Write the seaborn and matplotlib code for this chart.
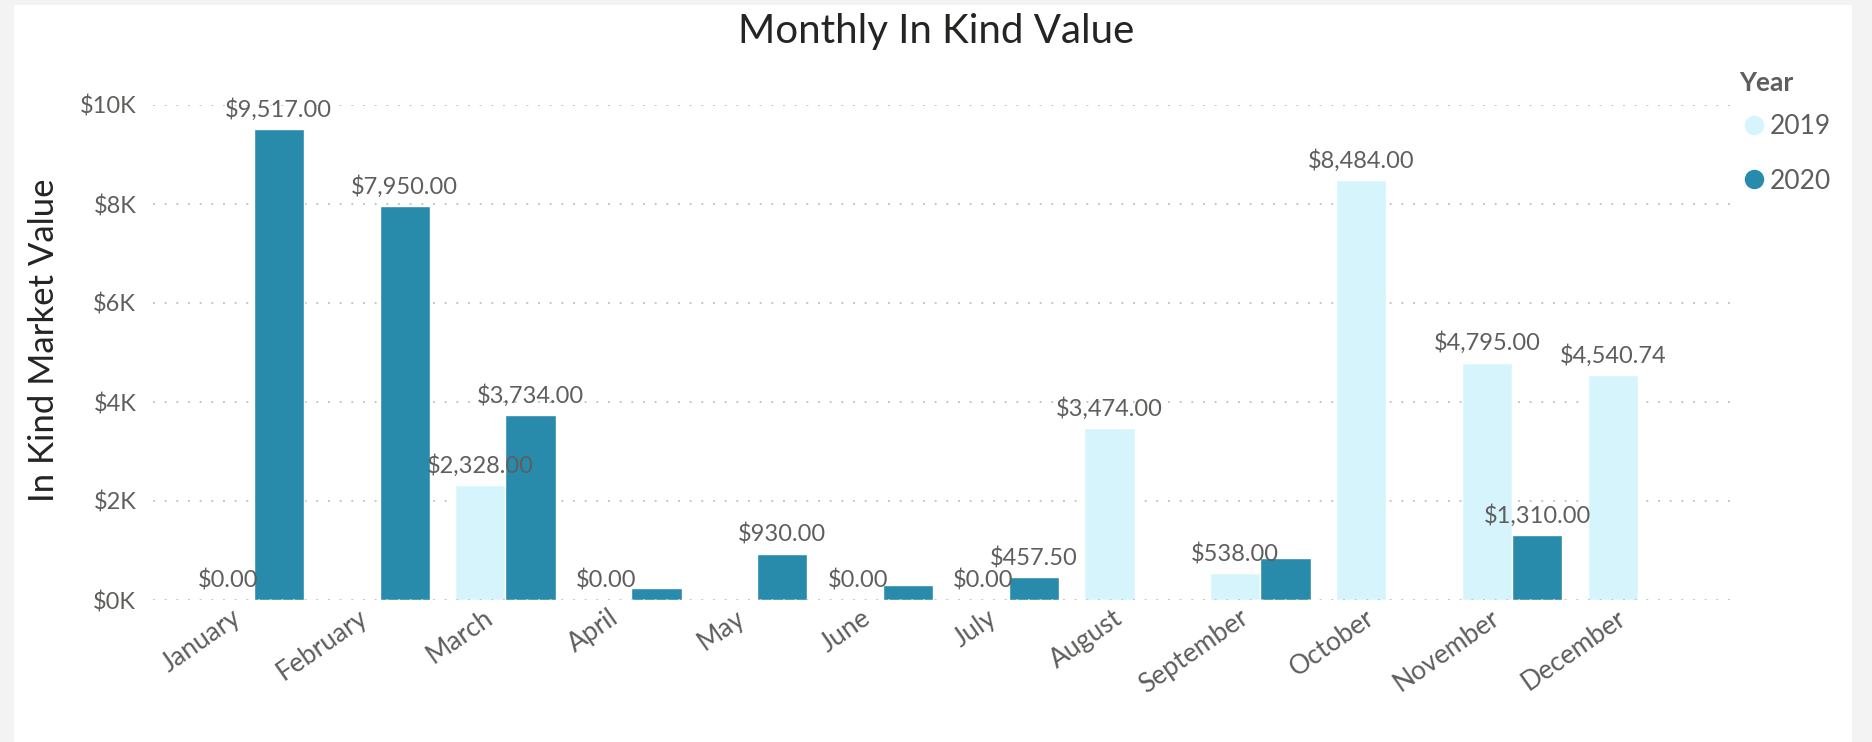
import numpy as np
import pandas as pd
import matplotlib
matplotlib.use("Agg")
import matplotlib.pyplot as plt
import seaborn as sns
from matplotlib.patches import Rectangle
from matplotlib.lines import Line2D
from matplotlib.ticker import FuncFormatter
from matplotlib.transforms import ScaledTranslation

months = ["January", "February", "March", "April", "May", "June", "July",
          "August", "September", "October", "November", "December"]
years = ["2019", "2020"]
value_2019 = [0, np.nan, 2328, 0, np.nan, 0, 0, 3474, 538, 8484, 4795, 4540.74]
value_2020 = [9517, 7950, 3734, 236, 930, 303, 457.5, np.nan, 848, np.nan, 1310, np.nan]
# labels Power BI dropped because they collided with a neighbour
hidden_labels = [("April", "2020"), ("June", "2020"), ("September", "2020")]
y_ticks = [0, 2000, 4000, 6000, 8000, 10000]

colors = {"2019": "#D6F4FC", "2020": "#288BAB"}
dark = "#252423"
grey = "#605E5C"

df = pd.DataFrame({
    "Month": months * 2,
    "Year": ["2019"] * 12 + ["2020"] * 12,
    "Value": value_2019 + value_2020,
}).dropna()

sns.set_style("white")
plt.rcParams["font.family"] = ["Lato", "DejaVu Sans"]

fig = plt.figure(figsize=(18.72, 7.42), dpi=100)
fig.patch.set_facecolor("#F3F3F3")
fig.patches.append(Rectangle((14 / 1872, 0), (1852 - 14) / 1872, 1 - 5 / 742,
                             transform=fig.transFigure, facecolor="white",
                             edgecolor="none", zorder=-10))

ax = fig.add_axes([153 / 1872, 1 - 600 / 742, 1578 / 1872, 495 / 742])
ax.set_facecolor("none")

sns.barplot(data=df, x="Month", y="Value", hue="Year", order=months,
            hue_order=years, palette=colors, width=0.8, saturation=1,
            legend=False, ax=ax, zorder=2)

ax.set_xlim(-0.8, 11.74)
ax.set_ylim(0, 10000)
ax.set_yticks(y_ticks)
ax.yaxis.set_major_formatter(FuncFormatter(lambda v, p: f"${v / 1000:.0f}K"))
for y in y_ticks:
    ax.axhline(y, color="#C8C6C4", lw=1.4, ls=(0, (1, 5)), zorder=1 if y else 3)

for s in ax.spines.values():
    s.set_visible(False)
ax.tick_params(axis="y", length=0, colors=grey, labelsize=17, pad=12)
ax.tick_params(axis="x", length=0, colors=grey, labelsize=19, pad=11)
shift = ScaledTranslation(-0.15, 0, fig.dpi_scale_trans)
for lab in ax.get_xticklabels():
    lab.set_rotation(35)
    lab.set_ha("right")
    lab.set_va("center")
    lab.set_rotation_mode("anchor")
    lab.set_transform(lab.get_transform() + shift)
ax.set_xlabel("")
ax.set_ylabel("")

for year, cont in zip(years, ax.containers):
    for bar in cont:
        cx = bar.get_x() + bar.get_width() / 2
        month = months[int(round(cx))]
        if (month, year) in hidden_labels:
            continue
        h = bar.get_height()
        ax.annotate(f"${h:,.2f}", (cx, h), xytext=(0, 6), textcoords="offset points",
                    ha="center", va="bottom", fontsize=17, color=grey,
                    annotation_clip=False, zorder=5)

fig.text(0.5, 1 - 32 / 742, "Monthly In Kind Value", ha="center", va="center",
         fontsize=29, color=dark)
fig.text(44 / 1872, 1 - 340 / 742, "In Kind Market Value", ha="center", va="center",
         rotation=90, fontsize=25, color=dark)

# legend: title as its own text, items below it
fig.text(1739 / 1872, 1 - 83 / 742, "Year", ha="left", va="center",
         fontsize=19, fontweight="bold", color=grey)
handles = [Line2D([], [], marker="o", ls="none", markersize=14,
                  markerfacecolor=colors[y], markeredgecolor="none") for y in years]
leg = fig.legend(handles, years, loc="center left",
                 bbox_to_anchor=(1730 / 1872, 1 - 154 / 742), frameon=False,
                 fontsize=19, labelspacing=1.1, handletextpad=0.1,
                 handlelength=1.0, borderaxespad=0)
for t in leg.get_texts():
    t.set_color(grey)

fig.savefig("out.png", dpi=100, facecolor=fig.get_facecolor())
